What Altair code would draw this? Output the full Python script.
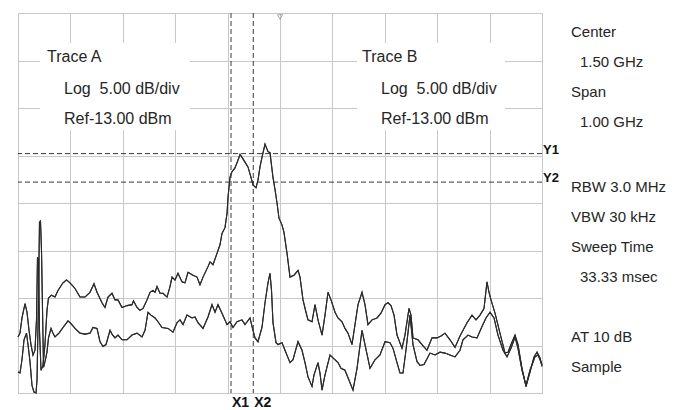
import altair as alt
import pandas as pd

# ---- trace data (frequency in MHz, level in dBm) ----
trace_a_freq = [1000.0, 1003.8, 1007.6, 1013.4, 1017.2, 1021.0, 1024.8, 1028.6, 1032.4, 1035.3,
                1037.2, 1039.1, 1041.0, 1043.9, 1047.7, 1051.5, 1055.3, 1058.2, 1063.9, 1070.6,
                1076.3, 1085.9, 1092.6, 1099.2, 1108.8, 1118.3, 1127.9, 1137.4, 1145.0, 1150.8,
                1160.3, 1166.0, 1171.8, 1179.4, 1185.1, 1190.8, 1198.5, 1208.0, 1217.6, 1220.4,
                1227.1, 1232.8, 1238.6, 1246.2, 1251.9, 1257.6, 1261.5, 1265.3, 1271.0, 1276.7,
                1284.4, 1290.1, 1293.9, 1299.6, 1305.3, 1313.0, 1318.7, 1324.4, 1334.0, 1341.6,
                1347.3, 1353.1, 1362.6, 1366.4, 1372.1, 1379.8, 1385.5, 1389.3, 1395.0, 1398.9,
                1400.8, 1404.6, 1408.4, 1414.1, 1419.8, 1423.7, 1427.5, 1433.2, 1438.9, 1444.6,
                1448.5, 1454.2, 1458.0, 1461.8, 1465.6, 1471.4, 1477.1, 1480.9, 1486.6, 1490.5,
                1494.3, 1498.1, 1503.8, 1507.6, 1513.4, 1519.1, 1526.7, 1534.4, 1538.2, 1543.9,
                1549.6, 1553.4, 1561.1, 1566.8, 1572.5, 1580.2, 1585.9, 1591.6, 1597.3, 1605.0,
                1610.7, 1618.3, 1624.0, 1629.8, 1637.4, 1643.1, 1648.9, 1656.5, 1662.2, 1667.9,
                1675.6, 1685.1, 1692.7, 1700.4, 1706.1, 1711.8, 1717.6, 1723.3, 1732.8, 1738.5,
                1746.2, 1750.0, 1753.8, 1763.4, 1771.0, 1780.5, 1790.1, 1799.6, 1807.3, 1814.9,
                1824.4, 1834.0, 1843.5, 1856.9, 1866.4, 1874.0, 1881.7, 1889.3, 1895.0, 1898.9,
                1902.7, 1910.3, 1919.8, 1929.4, 1935.1, 1940.8, 1948.5, 1954.2, 1961.8, 1969.5,
                1977.1, 1984.8, 1990.5, 1996.2, 2000.0]
trace_a_dbm = [-47.1, -46.7, -45.1, -43.6, -44.5, -46.4, -47.9, -49.0, -48.5, -45.3,
               -38.7, -39.0, -46.4, -50.6, -50.1, -47.9, -44.3, -43.0, -42.7, -42.9,
               -42.2, -41.4, -41.1, -41.4, -42.0, -42.9, -42.9, -42.4, -41.5, -42.4,
               -43.5, -44.0, -42.9, -42.5, -43.2, -43.2, -44.0, -43.8, -43.7, -43.3,
               -44.0, -44.3, -44.1, -43.2, -42.4, -42.2, -42.4, -41.8, -42.5, -42.5,
               -42.9, -41.8, -40.8, -41.1, -40.4, -41.3, -41.4, -40.3, -40.6, -40.8,
               -41.6, -40.8, -39.7, -39.2, -39.5, -38.3, -37.4, -36.2, -35.6, -34.1,
               -32.4, -30.3, -29.7, -29.3, -28.5, -27.9, -28.2, -28.7, -29.2, -30.3,
               -31.1, -31.4, -30.6, -29.2, -28.2, -26.8, -27.6, -27.7, -30.3, -31.6,
               -33.0, -34.6, -35.3, -36.1, -38.3, -40.8, -40.6, -40.1, -40.8, -43.2,
               -44.5, -45.3, -45.5, -43.7, -45.3, -46.9, -44.8, -42.4, -43.2, -44.5,
               -45.1, -45.5, -46.2, -46.7, -47.9, -45.8, -43.7, -42.4, -43.7, -45.8,
               -45.3, -45.1, -44.6, -43.7, -43.5, -43.8, -44.8, -46.9, -48.3, -46.9,
               -44.1, -44.8, -47.2, -47.4, -47.9, -48.5, -47.2, -47.2, -47.0, -46.7,
               -47.4, -48.2, -47.0, -45.6, -44.8, -45.3, -44.8, -44.1, -41.3, -42.4,
               -43.2, -44.6, -46.7, -48.8, -48.7, -47.9, -46.9, -47.9, -50.4, -52.3,
               -50.8, -49.2, -48.7, -49.3, -50.2]

trace_b_freq = [1000.0, 1003.8, 1007.6, 1011.5, 1016.2, 1019.1, 1022.9, 1026.7, 1030.5, 1034.4,
                1036.3, 1039.1, 1041.0, 1042.9, 1044.8, 1046.8, 1048.7, 1051.5, 1055.3, 1058.2,
                1063.0, 1066.8, 1070.6, 1078.2, 1085.9, 1095.4, 1101.1, 1108.8, 1118.3, 1127.9,
                1137.4, 1143.1, 1150.8, 1156.5, 1162.2, 1167.9, 1175.6, 1179.4, 1185.1, 1190.8,
                1198.5, 1208.0, 1217.6, 1227.1, 1236.6, 1242.4, 1248.1, 1253.8, 1261.5, 1267.2,
                1274.8, 1286.3, 1295.8, 1303.4, 1309.2, 1314.9, 1322.5, 1332.1, 1337.8, 1343.5,
                1353.1, 1362.6, 1370.2, 1376.0, 1381.7, 1389.3, 1398.9, 1404.6, 1410.3, 1417.9,
                1427.5, 1433.2, 1442.7, 1448.5, 1452.3, 1458.0, 1465.6, 1471.4, 1477.1, 1480.9,
                1483.8, 1486.6, 1492.4, 1496.2, 1503.8, 1509.5, 1519.1, 1524.8, 1534.4, 1542.0,
                1547.7, 1553.4, 1561.1, 1564.9, 1572.5, 1576.3, 1580.2, 1585.9, 1595.4, 1601.1,
                1610.7, 1616.4, 1624.0, 1629.8, 1639.3, 1647.0, 1656.5, 1662.2, 1671.8, 1681.3,
                1690.8, 1700.4, 1709.9, 1715.7, 1723.3, 1729.0, 1734.7, 1740.4, 1748.1, 1753.8,
                1761.5, 1767.2, 1774.8, 1786.3, 1795.8, 1805.4, 1814.9, 1824.4, 1834.0, 1843.5,
                1849.2, 1858.8, 1866.4, 1876.0, 1885.5, 1893.1, 1900.8, 1908.4, 1916.0, 1925.6,
                1933.2, 1940.8, 1948.5, 1954.2, 1961.8, 1969.5, 1977.1, 1986.6, 1992.4, 2000.0]
trace_b_dbm = [-50.8, -50.9, -49.5, -47.4, -46.7, -47.9, -49.7, -52.2, -52.9, -53.0,
               -51.6, -43.2, -35.0, -34.9, -37.9, -44.3, -50.3, -49.7, -48.7, -47.2,
               -46.2, -46.7, -47.1, -46.7, -46.1, -45.4, -45.7, -46.2, -46.7, -46.8,
               -46.7, -46.1, -46.2, -47.6, -48.1, -47.9, -46.4, -46.8, -47.2, -46.9,
               -47.4, -47.4, -46.9, -46.7, -47.1, -46.4, -44.5, -44.8, -45.1, -45.5,
               -46.1, -46.2, -46.6, -45.6, -45.3, -45.8, -44.8, -45.1, -45.0, -45.6,
               -46.2, -45.0, -43.7, -44.5, -43.7, -44.6, -45.8, -45.5, -46.1, -45.5,
               -45.3, -45.8, -45.1, -46.4, -47.2, -47.6, -46.1, -43.5, -41.4, -40.4,
               -42.2, -45.6, -47.7, -47.9, -47.7, -48.5, -49.8, -49.5, -47.6, -48.5,
               -49.8, -51.3, -52.3, -51.1, -49.8, -50.9, -52.7, -51.1, -49.0, -49.3,
               -49.8, -50.4, -50.6, -51.4, -52.7, -50.4, -46.4, -47.9, -50.4, -49.5,
               -49.0, -47.6, -47.7, -48.3, -49.8, -50.9, -50.9, -48.5, -44.8, -47.9,
               -49.7, -50.1, -50.0, -48.8, -49.0, -48.7, -48.8, -49.0, -49.2, -48.5,
               -47.4, -46.9, -47.1, -47.2, -46.0, -45.1, -44.5, -45.1, -46.9, -48.5,
               -49.2, -48.3, -47.1, -48.3, -50.6, -52.2, -50.6, -49.2, -49.0, -50.0]

# ---- markers ----
x_marker_names = ["X1", "X2"]
x_marker_freq = [1406.5, 1449.0]
y_marker_names = ["Y1", "Y2"]
y_marker_dbm = [-27.8, -30.8]
center_freq = [1500.0]

# ---- scale / grid ----
freq_start, freq_stop = 1000.0, 2000.0
ref_level, bottom_level = -13.0, -53.0
x_grid = [1000, 1100, 1200, 1300, 1400, 1500, 1600, 1700, 1800, 1900, 2000]
y_grid = [-53, -48, -43, -38, -33, -28, -23, -18, -13]

# ---- annotation texts ----
trace_titles = ["Trace A", "Trace B"]
trace_scale = ["Log\u00a0\u00a05.00 dB/div", "Log\u00a0\u00a05.00 dB/div"]
trace_ref = ["Ref-13.00 dBm", "Ref-13.00 dBm"]
side_labels = ["Center", "1.50 GHz", "Span", "1.00 GHz", "RBW 3.0 MHz", "VBW 30 kHz",
               "Sweep Time", "33.33 msec", "AT 10 dB", "Sample"]
side_indent = [False, True, False, True, False, False, False, True, False, False]
side_baseline = [24, 54, 84, 114, 179, 209, 239, 269, 329, 359]

df = pd.concat([
    pd.DataFrame({"freq": trace_a_freq, "level": trace_a_dbm, "trace": "A"}),
    pd.DataFrame({"freq": trace_b_freq, "level": trace_b_dbm, "trace": "B"}),
], ignore_index=True)

FONT = "Liberation Sans"
TXT = "#262626"

xs = alt.Scale(domain=[freq_start, freq_stop], nice=False, zero=False)
ys = alt.Scale(domain=[bottom_level, ref_level], nice=False, zero=False)

x_axis = alt.Axis(values=x_grid, grid=True, labels=False, ticks=False, domain=False,
                  title=None, gridColor="#c8c8c8", gridWidth=1)
y_axis = alt.Axis(values=y_grid, grid=True, labels=False, ticks=False, domain=False,
                  title=None, gridColor="#c8c8c8", gridWidth=1)

base = alt.Chart(df)

lines = base.mark_line(color="#2b2b2b", strokeWidth=1.1, interpolate="linear").encode(
    x=alt.X("freq:Q", scale=xs, axis=x_axis),
    y=alt.Y("level:Q", scale=ys, axis=y_axis),
    detail="trace:N",
)

one = pd.DataFrame({"k": [0]})
box_a = alt.Chart(one).mark_rect(color="white").encode(
    x=alt.value(22), x2=alt.value(172), y=alt.value(30), y2=alt.value(117))
box_b = alt.Chart(one).mark_rect(color="white").encode(
    x=alt.value(339), x2=alt.value(487), y=alt.value(30), y2=alt.value(117))

xm = pd.DataFrame({"name": x_marker_names, "freq": x_marker_freq})
ym = pd.DataFrame({"name": y_marker_names, "level": y_marker_dbm})

x_rules = alt.Chart(xm).mark_rule(color="#3a3a3a", strokeWidth=1, strokeDash=[5, 3]).encode(
    x=alt.X("freq:Q", scale=xs))
y_rules = alt.Chart(ym).mark_rule(color="#3a3a3a", strokeWidth=1, strokeDash=[5, 3]).encode(
    y=alt.Y("level:Q", scale=ys))

x_labels = alt.Chart(xm).mark_text(font=FONT, fontSize=14, fontWeight="bold", color="#111",
                                   align="left", baseline="alphabetic", dx=1).encode(
    x=alt.X("freq:Q", scale=xs), y=alt.value(394), text="name:N")
y_labels = alt.Chart(ym).mark_text(font=FONT, fontSize=13, fontWeight="bold", color="#111",
                                   align="left", baseline="alphabetic").encode(
    x=alt.value(525), y=alt.Y("level:Q", scale=ys), text="name:N",
    yOffset=alt.value(0))
y_labels = y_labels.transform_calculate(dummy="0")

center_mark = alt.Chart(pd.DataFrame({"freq": center_freq})).mark_point(
    shape="triangle-down", filled=False, color="#888", size=28, strokeWidth=1).encode(
    x=alt.X("freq:Q", scale=xs), y=alt.value(4))

tt = pd.DataFrame({"title": trace_titles, "scale": trace_scale, "ref": trace_ref,
                   "x0": [29, 344], "x1": [46, 363]})
t_title = alt.Chart(tt).mark_text(font=FONT, fontSize=16, color=TXT, align="left",
                                  baseline="alphabetic").encode(
    x=alt.X("x0:Q", scale=None), y=alt.value(49), text="title:N")
t_scale = alt.Chart(tt).mark_text(font=FONT, fontSize=16, color=TXT, align="left",
                                  baseline="alphabetic").encode(
    x=alt.X("x1:Q", scale=None), y=alt.value(81), text="scale:N")
t_ref = alt.Chart(tt).mark_text(font=FONT, fontSize=16, color=TXT, align="left",
                                baseline="alphabetic").encode(
    x=alt.X("x1:Q", scale=None), y=alt.value(111), text="ref:N")

sd = pd.DataFrame({"label": side_labels,
                   "xpos": [562 if i else 553 for i in side_indent],
                   "ypos": side_baseline})
side = alt.Chart(sd).mark_text(font=FONT, fontSize=15, color=TXT, align="left",
                               baseline="alphabetic").encode(
    x=alt.X("xpos:Q", scale=None), y=alt.Y("ypos:Q", scale=None), text="label:N")

chart = alt.layer(
    lines, box_a, box_b, x_rules, y_rules, lines, center_mark,
    x_labels, y_labels, t_title, t_scale, t_ref, side,
).properties(
    width=524, height=380, autosize="none",
    padding={"left": 18, "top": 13, "right": 146, "bottom": 17},
    background="white",
).configure_view(stroke="#a8a8a8", strokeWidth=1)

chart.save("out.html", embed_options={"renderer": "svg", "actions": False})
